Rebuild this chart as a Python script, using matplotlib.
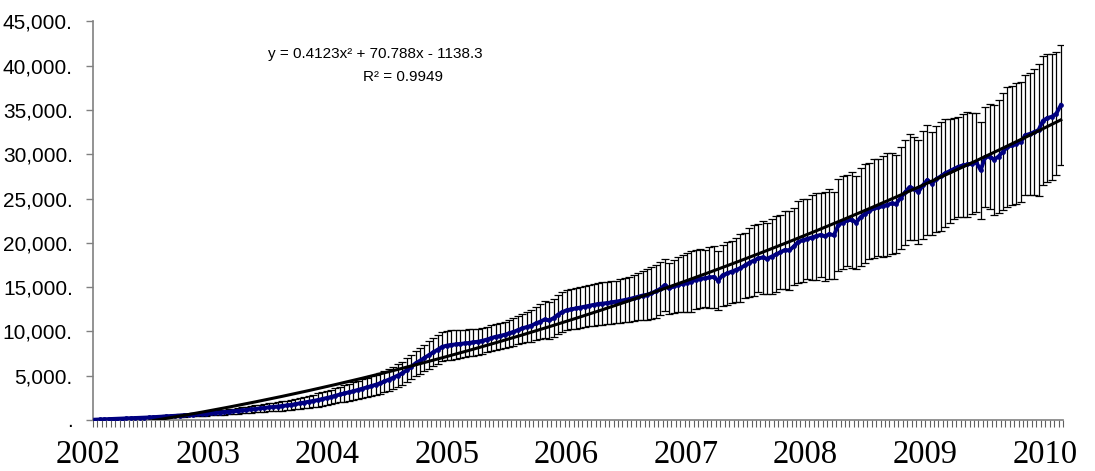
import numpy as np
import matplotlib.pyplot as plt
from matplotlib.ticker import FuncFormatter
import matplotlib.transforms as mtransforms

# valeurs moyennes (une par période, ~2 semaines)
mean_vals = [
    40, 60, 80, 100, 120, 140, 160, 180, 200, 220,
    240, 260, 290, 320, 350, 380, 410, 440, 470, 500,
    530, 560, 600, 640, 680, 720, 760, 800, 840, 880,
    930, 980, 1030, 1080, 1130, 1190, 1250, 1300, 1360, 1420,
    1470, 1520, 1580, 1640, 1700, 1790, 1880, 1970, 2060, 2150,
    2250, 2360, 2480, 2600, 2750, 2880, 3000, 3120, 3250, 3390,
    3530, 3670, 3820, 3980, 4140, 4350, 4550, 4780, 5020, 5270,
    5620, 6000, 6400, 6700, 7020, 7340, 7650, 7950, 8270, 8400,
    8480, 8540, 8600, 8650, 8700, 8780, 8840, 8950, 9080, 9250,
    9400, 9500, 9620, 9780, 9950, 10150, 10350, 10500, 10650, 10900,
    11100, 11350, 11250, 11500, 11900, 12200, 12400, 12500, 12600, 12700,
    12800, 12900, 13000, 13100, 13150, 13200, 13280, 13350, 13450, 13550,
    13650, 13780, 13920, 14050, 14150, 14300, 14550, 14800, 15250, 14850,
    15100, 15250, 15400, 15500, 15610, 15850, 15950, 16000, 16100, 16150,
    15750, 16350, 16550, 16750, 16950, 17150, 17450, 17750, 18000, 18250,
    18350, 18200, 18450, 18700, 18950, 19200, 19150, 19600, 20100, 20300,
    20450, 20600, 20750, 20900, 20750, 21000, 20850, 22000, 22300, 22550,
    22600, 22300, 22900, 23300, 23600, 23900, 24000, 24150, 24300, 24450,
    24400, 25100, 25700, 26300, 26100, 25750, 26500, 27100, 26700, 27200,
    27500, 27850, 28100, 28350, 28600, 28750, 28850, 28950, 29100, 28200,
    29700, 29750, 29400, 29750, 30300, 30850, 31000, 31200, 31400, 32150,
    32300, 32500, 32750, 33800, 34100, 34250, 34600, 35550,
]

# demi-hauteur des barres d'erreur
err_vals = [
    10, 15, 20, 25, 30, 35, 40, 45, 50, 55,
    60, 65, 70, 80, 90, 100, 110, 120, 130, 140,
    150, 160, 170, 185, 200, 215, 230, 245, 260, 275,
    290, 305, 320, 340, 360, 380, 400, 420, 440, 460,
    480, 500, 520, 545, 570, 600, 630, 660, 690, 720,
    750, 780, 810, 840, 870, 900, 930, 960, 990, 1020,
    1050, 1080, 1110, 1140, 1170, 1200, 1230, 1260, 1290, 1320,
    1350, 1380, 1420, 1460, 1500, 1540, 1580, 1620, 1650, 1650,
    1650, 1640, 1600, 1560, 1520, 1500, 1480, 1460, 1450, 1450,
    1460, 1480, 1500, 1520, 1560, 1600, 1650, 1720, 1800, 1900,
    2000, 2050, 2100, 2150, 2200, 2220, 2240, 2260, 2280, 2300,
    2320, 2340, 2360, 2380, 2400, 2400, 2400, 2400, 2450, 2500,
    2550, 2600, 2680, 2760, 2850, 2950, 3000, 3000, 2950, 2900,
    3000, 3100, 3200, 3350, 3450, 3300, 3350, 3200, 3400, 3500,
    3300, 3450, 3600, 3500, 3650, 3800, 3700, 3900, 4000, 3850,
    4100, 4000, 4200, 4300, 4150, 4400, 4500, 4350, 4600, 4700,
    4550, 4800, 4900, 4750, 5000, 5100, 4950, 5200, 5300, 5150,
    5400, 5300, 5500, 5600, 5450, 5600, 5500, 5700, 5800, 5650,
    5500, 5750, 5900, 6000, 5800, 5900, 6100, 6200, 5800, 6000,
    6200, 6100, 5900, 5700, 5650, 5800, 5900, 5700, 5600, 5500,
    5600, 5900, 6200, 6400, 6600, 6770, 6700, 6800, 6750, 6770,
    6900, 7100, 7500, 7300, 7200, 7100, 6900, 6780,
]

year_labels = ['2002', '2003', '2004', '2005', '2006', '2007', '2008', '2009', '2010']

# tendance polynomiale affichée sur le graphique
trend_coef = [0.4123, 70.788, -1138.3]
eq_text = 'y = 0.4123x² + 70.788x - 1138.3'
r2_text = 'R² = 0.9949'

x = np.arange(1, len(mean_vals) + 1)
n = len(mean_vals)

fig = plt.figure(figsize=(10.95, 4.71), dpi=100)
ax = fig.add_axes([0.0849, 0.1083, 0.8859, 0.8461])

ax.errorbar(x, mean_vals, yerr=err_vals, fmt='none', ecolor='black',
            elinewidth=0.9, capsize=3, capthick=0.9, zorder=2)
ax.plot(x, mean_vals, color='#000080', lw=2.8, marker='o', ms=2.4, zorder=3)
ax.plot(x, np.polyval(trend_coef, x), color='black', lw=2.2, zorder=4)

ax.set_xlim(0.5, n + 0.5)
ax.set_ylim(0, 45000)

ax.set_yticks(np.arange(0, 45001, 5000))
ax.yaxis.set_major_formatter(FuncFormatter(lambda v, p: '.' if v == 0 else f'{v:,.0f}.'))
ax.tick_params(axis='y', direction='out', length=5, width=1, color='#808080',
               pad=9.5, labelsize=15)
for lab in ax.get_yticklabels():
    lab.set_family('Liberation Sans')

ax.set_xticks([])
ax.set_xticks(np.arange(0.5, n + 1, 1), minor=True)
ax.tick_params(axis='x', which='minor', direction='out', length=5, width=0.8, color='#606060')

for s in ['top', 'right']:
    ax.spines[s].set_visible(False)
for s in ['left', 'bottom']:
    ax.spines[s].set_color('#808080')
    ax.spines[s].set_linewidth(1.2)

# années sous l'axe
trans = mtransforms.blended_transform_factory(ax.transData, ax.transAxes)
for pos, lab in zip(np.linspace(-0.6, 214.4, len(year_labels)), year_labels):
    ax.text(pos, -0.108, lab, transform=trans, ha='center', va='baseline',
            fontsize=23.5, family='Liberation Serif', clip_on=False)

fig.text(0.2447, 0.8855, eq_text, ha='left', va='center', fontsize=11, family='Liberation Sans')
fig.text(0.3315, 0.8365, r2_text, ha='left', va='center', fontsize=11, family='Liberation Sans')

fig.savefig('out.png', dpi=100)
